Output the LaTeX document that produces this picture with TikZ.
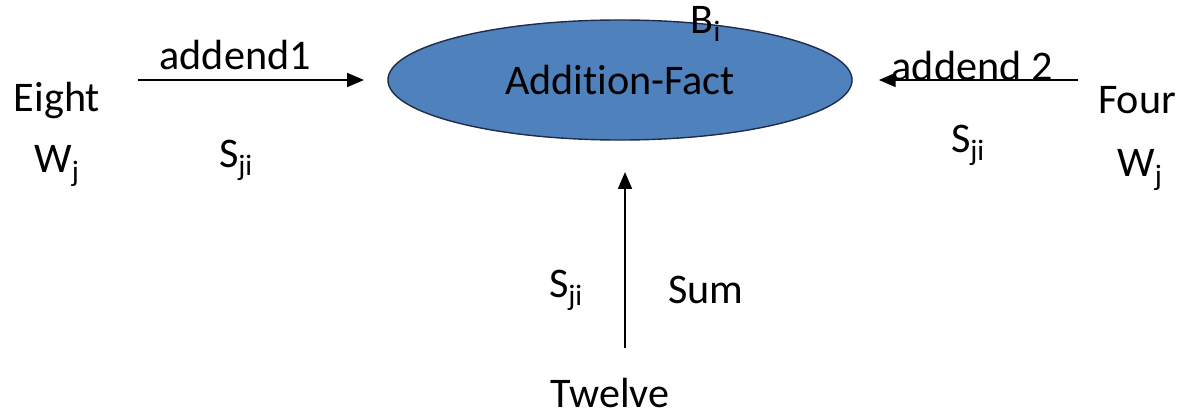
\documentclass[tikz,border=0pt]{standalone}
\usepackage{fontspec}
\setmainfont{Carlito}[Ligatures={NoCommon,NoRare,NoContextual}]
\usepackage{tikz}
\usetikzlibrary{positioning,shapes.geometric,arrows.meta}
\definecolor{factblue}{HTML}{4F81BD}
\definecolor{factedge}{HTML}{1F2D4A}

\begin{document}
\begin{tikzpicture}[x=0.025cm, y=-0.025cm,
every node/.style={align=center, font=\fontsize{30}{36}\selectfont, inner sep=0pt},
link/.style={-{Triangle[length=0.42cm, width=0.34cm]}, line width=1.8pt},
fact/.style={ellipse, draw=factedge, line width=1pt, fill=factblue, minimum width=11.6cm, minimum height=3cm}]
\useasboundingbox (0,0) rectangle (1180,418);
\node[fact] (fact) at (620,80) {Addition-Fact};
\node (bias) at (706,24) {B\textsubscript{i}};
\node (eight) at (57,100) {Eight};
\node (weight) at (57,166) {W\textsubscript{j}};
\node (sleft) at (236,160) {S\textsubscript{ji}};
\node (four) at (1137,100) {Four};
\node (wfour) at (1140,170) {W\textsubscript{j}};
\node (sright) at (968,145) {S\textsubscript{ji}};
\node (twelve) at (610,393) {Twelve};
\node (sbottom) at (566,290) {S\textsubscript{ji}};
\node (sum) at (706,290) {Sum};
\coordinate (a1) at (138,80);
\coordinate (a2) at (1078,80);
\coordinate (a3) at (625,348);
\draw[link, shorten >=0.58cm] (a1) -- node[pos=0.39, above=0.22cm]{addend1} (fact.west);
\draw[link, shorten >=0.65cm] (a2) -- node[pos=0.47, above=-0.05cm]{addend 2} (fact.east);
\draw[link] (a3) -- (a3 |- 0,172);
\end{tikzpicture}
\end{document}
